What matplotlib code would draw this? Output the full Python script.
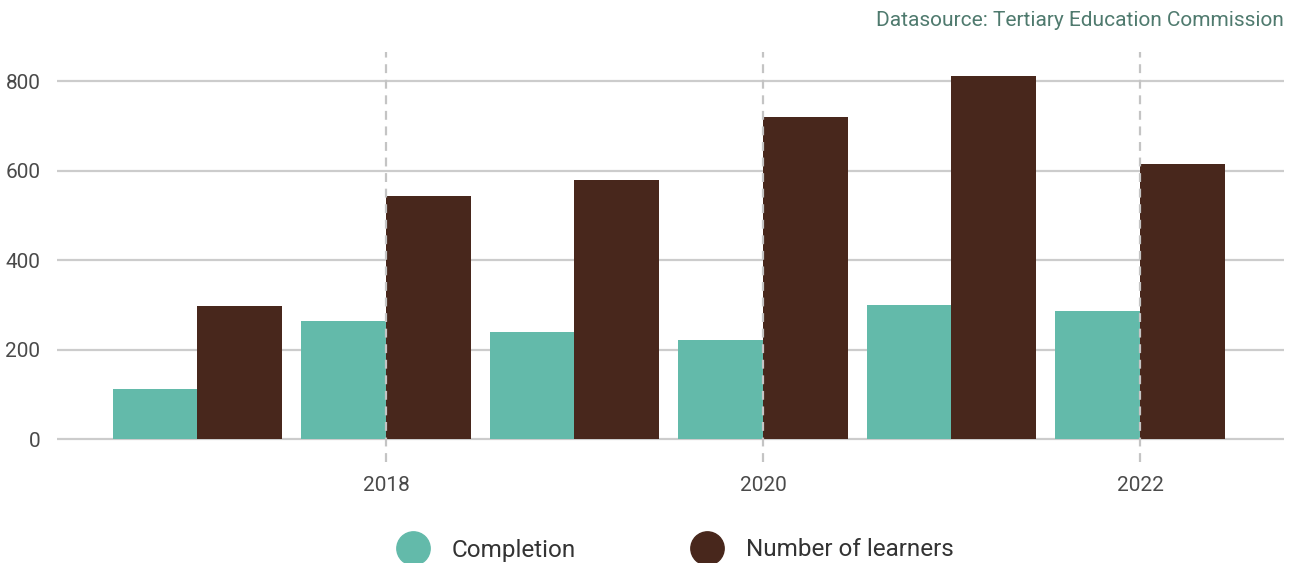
import numpy as np
import matplotlib.pyplot as plt
from matplotlib.lines import Line2D

# ============================================================
# Data
# ============================================================
years = np.array([2017, 2018, 2019, 2020, 2021, 2022])
completion = [112, 264, 239, 221, 299, 286]
learners = [297, 543, 579, 720, 811, 615]

year_ticks = [2018, 2020, 2022]
y_ticks = [0, 200, 400, 600, 800]

teal = "#63BAAA"
brown = "#48271C"
grid_col = "#CCCCCC"
text_col = "#4A4A4A"

plt.rcParams["font.family"] = ["Roboto", "DejaVu Sans"]

# ============================================================
# Figure
# ============================================================
fig = plt.figure(figsize=(12.98, 5.63), dpi=100)
ax = fig.add_axes([0.0439, 0.1794, 0.9453, 0.7282])

bw = 0.45
ax.bar(years - bw, completion, width=bw, align="edge", color=teal, zorder=2)
ax.bar(years, learners, width=bw, align="edge", color=brown, zorder=2)

for y in y_ticks:
    ax.axhline(y, color=grid_col, linewidth=1.6, zorder=1)

for x in year_ticks:
    ax.axvline(x, color="#C4C4C4", linewidth=1.6, linestyle=(0, (4, 3)), zorder=3)

ax.set_xlim(2016.255, 2022.764)
ax.set_ylim(-51, 865)
ax.set_xticks(year_ticks)
ax.set_xticklabels([str(y) for y in year_ticks])
ax.set_yticks(y_ticks)
ax.tick_params(length=0, labelsize=15, labelcolor=text_col, pad=10)
ax.tick_params(axis="y", pad=12)
for s in ax.spines.values():
    s.set_visible(False)

fig.text(1284 / 1298, 1 - 21 / 563, "Datasource: Tertiary Education Commission",
         ha="right", va="center", fontsize=15, color="#4F7A6E")

handles = [
    Line2D([], [], marker="o", linestyle="none", markersize=24,
           markerfacecolor=teal, markeredgecolor=teal, label="Completion"),
    Line2D([], [], marker="o", linestyle="none", markersize=24,
           markerfacecolor=brown, markeredgecolor=brown, label="Number of learners"),
]
leg = fig.legend(handles=handles, loc="center", ncol=2, frameon=False,
                 bbox_to_anchor=(671 / 1298, 1 - 550 / 563),
                 fontsize=17.5, columnspacing=4.4, handletextpad=0.6)
for t in leg.get_texts():
    t.set_color("#333333")

plt.savefig("out.png", dpi=100)
